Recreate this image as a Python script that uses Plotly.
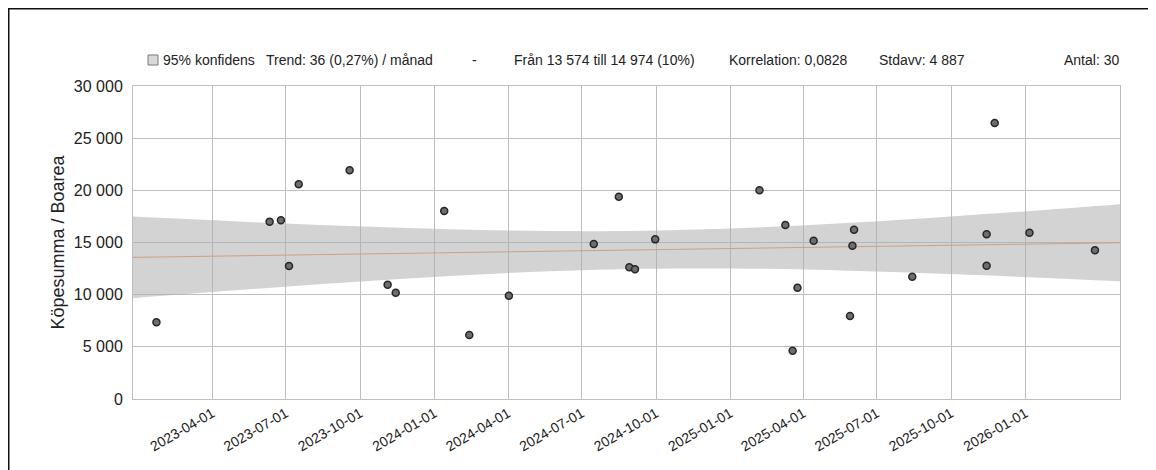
import plotly.graph_objects as go

# ---- data ----
dates = [
    "2023-01-22", "2023-06-11", "2023-06-25", "2023-07-05", "2023-07-17",
    "2023-09-18", "2023-11-04", "2023-11-14", "2024-01-13", "2024-02-13",
    "2024-04-02", "2024-07-16", "2024-08-16", "2024-08-29", "2024-09-05",
    "2024-09-30", "2025-02-06", "2025-03-10", "2025-03-19", "2025-03-25",
    "2025-04-14", "2025-05-29", "2025-06-01", "2025-06-03", "2025-08-14",
    "2025-11-14", "2025-11-14", "2025-11-24", "2026-01-06", "2026-03-28",
]
values = [
    7350, 17000, 17130, 12750, 20580,
    21920, 10960, 10190, 18020, 6130,
    9900, 14860, 19390, 12620, 12430,
    15300, 20000, 16680, 4630, 10670,
    15170, 7955, 14690, 16230, 11720,
    15790, 12780, 26450, 15940, 14250,
]

trend_dates = ["2022-12-24", "2026-04-28"]
trend_values = [13574, 14974]

band_dates = ["2022-12-24", "2023-05-17", "2023-09-18", "2024-01-20", "2024-05-23",
              "2024-09-16", "2025-01-25", "2025-05-29", "2025-09-30", "2026-01-20",
              "2026-04-28"]
band_upper = [17485, 16970, 16575, 16267, 16093, 16120, 16404, 16882, 17493, 18100, 18674]
band_lower = [9663, 10510, 11189, 11781, 12239, 12478, 12494, 12300, 11973, 11620, 11274]

tick_dates = ["2023-04-01", "2023-07-01", "2023-10-01", "2024-01-01", "2024-04-01",
              "2024-07-01", "2024-10-01", "2025-01-01", "2025-04-01", "2025-07-01",
              "2025-10-01", "2026-01-01"]

legend_band = "95% konfidens"
trend_head = "Trend: 36 (0,27%) / månad"
trend_sep = "-"
trend_tail = "Från 13 574 till 14 974 (10%)"
corr_text = "Korrelation: 0,0828"
std_text = "Stdavv: 4 887"
count_text = "Antal: 30"
y_title = "Köpesumma / Boarea"

# ---- layout geometry (page pixels; page body has an 8px margin) ----
OFF = 8
W, H = 1148, 462
L, R, T, B = 125, 36, 78, 71
PW, PH = W - L - R, H - T - B


def px(x):
    return (x - OFF - L) / PW


def py(y):
    return (H - B - (y - OFF)) / PH


FONT = "Liberation Sans, Arial, sans-serif"
TXT = "#222222"

fig = go.Figure()

fig.add_trace(go.Scatter(
    x=band_dates, y=band_lower, mode="lines", line=dict(width=0, shape="spline"),
    hoverinfo="skip", showlegend=False,
))
fig.add_trace(go.Scatter(
    x=band_dates, y=band_upper, mode="lines", line=dict(width=0, shape="spline"),
    fill="tonexty", fillcolor="rgba(175,175,175,0.55)",
    hoverinfo="skip", showlegend=False,
))

fig.add_trace(go.Scatter(
    x=trend_dates, y=trend_values, mode="lines",
    line=dict(color="rgb(206,160,128)", width=1), showlegend=False,
))

fig.add_trace(go.Scatter(
    x=dates, y=values, mode="markers",
    marker=dict(size=7, color="#6e6e6e", line=dict(color="#262626", width=1.5)),
    showlegend=False,
))

fig.update_layout(
    width=W, height=H,
    margin=dict(l=L, r=R, t=T, b=B),
    paper_bgcolor="white", plot_bgcolor="white",
    separators=", ",
    font=dict(family=FONT, size=14, color=TXT),
    showlegend=False,
)

fig.update_xaxes(
    range=[trend_dates[0], trend_dates[1]],
    tickvals=tick_dates, ticktext=tick_dates, tickangle=-30,
    showgrid=True, gridcolor="#bdbdbd", gridwidth=1,
    showline=True, linecolor="#bdbdbd", mirror=True,
    ticks="", zeroline=False,
    tickfont=dict(family=FONT, size=14, color=TXT),
)
fig.update_yaxes(
    range=[0, 30000], dtick=5000, tickformat=",d",
    showgrid=True, gridcolor="#bdbdbd", gridwidth=1,
    showline=True, linecolor="#bdbdbd", mirror=True,
    ticks="", zeroline=False, ticklabelstandoff=6,
    tickfont=dict(family=FONT, size=16, color=TXT),
    title=dict(text=y_title, font=dict(family=FONT, size=18, color=TXT), standoff=4),
)

# frame (top and left)
fig.add_shape(type="line", xref="paper", yref="paper",
              x0=px(OFF), y0=py(OFF + 0.5), x1=px(W + OFF + 5), y1=py(OFF + 0.5),
              line=dict(color="#111111", width=2))
fig.add_shape(type="line", xref="paper", yref="paper",
              x0=px(OFF + 0.5), y0=py(OFF), x1=px(OFF + 0.5), y1=py(H + OFF + 5),
              line=dict(color="#111111", width=2))

# legend square
fig.add_shape(type="rect", xref="paper", yref="paper",
              x0=px(148), y0=py(65), x1=px(158), y1=py(55),
              fillcolor="#d9d9d9", line=dict(color="#7a7a7a", width=1))


def label(text, x, anchor):
    fig.add_annotation(text=text, xref="paper", yref="paper", x=px(x), y=py(60),
                       xanchor=anchor, yanchor="middle", showarrow=False,
                       font=dict(family=FONT, size=14, color=TXT))


label(legend_band, 161, "left")
label(trend_head, 264, "left")
label(trend_sep, 474, "center")
label(trend_tail, 697, "right")
label(corr_text, 727, "left")
label(std_text, 877, "left")
label(count_text, 1121, "right")

fig.write_html("out.html")
